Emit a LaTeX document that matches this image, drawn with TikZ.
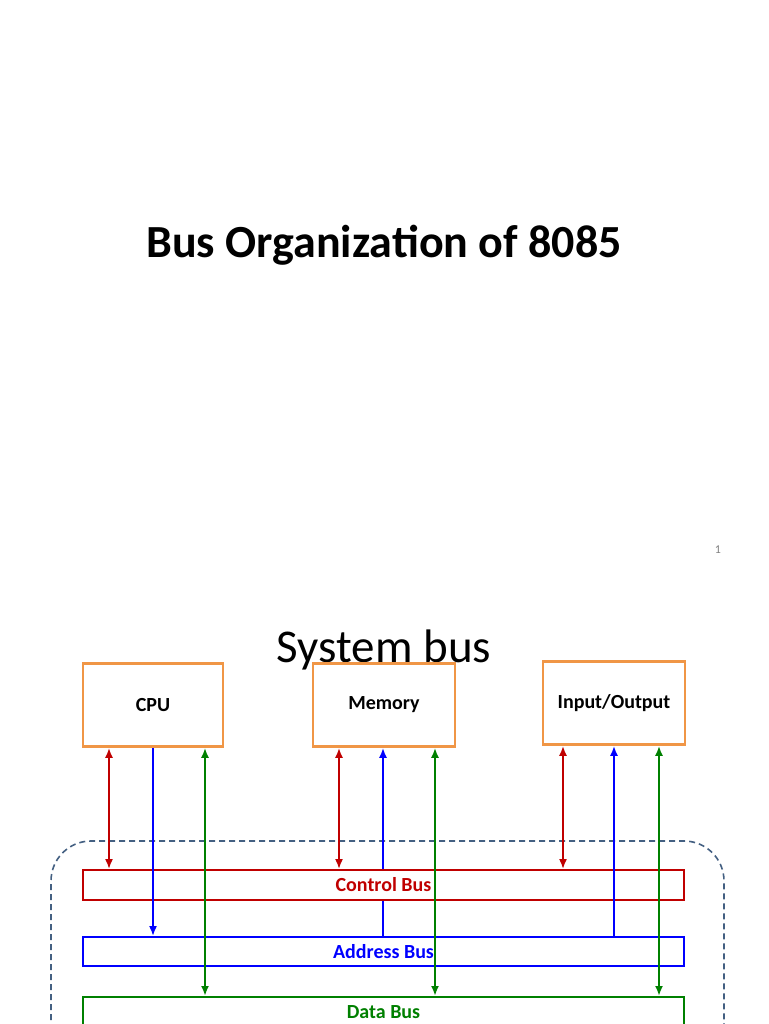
\documentclass[tikz,border=0pt]{standalone}
\usepackage{fontspec}
\setmainfont{Carlito}
\begin{document}
\begin{tikzpicture}[x=1pt,y=-1pt,
  unit/.style={line width=2.6pt,fill=white,font=\bfseries\fontsize{20}{22}\selectfont},
  bus/.style={line width=1.8pt,fill=white,font=\bfseries\fontsize{20}{22}\selectfont},
  arr/.style={line width=2pt,-{Latex[length=10pt,width=8pt]}},
  darr/.style={line width=2pt,{Latex[length=10pt,width=8pt]}-{Latex[length=10pt,width=8pt]}}]
\usetikzlibrary{arrows.meta}
\definecolor{cred}{RGB}{192,0,0}
\definecolor{cblue}{RGB}{0,0,255}
\definecolor{cgreen}{RGB}{0,128,0}
\definecolor{cdash}{RGB}{68,96,130}
\definecolor{corange}{RGB}{240,150,70}
\useasboundingbox (0,0) rectangle (768,1024);
\node[font=\bfseries\fontsize{46}{50}\selectfont] (title) at (384,245) {Bus Organization of 8085};
\node[font=\fontsize{12}{14}\selectfont,text=gray] (pg) at (718,550) {1};
\node[font=\fontsize{47}{50}\selectfont] (sys) at (384,650) {System bus};
\draw[cdash,dash pattern=on 6pt off 4pt,line width=1.6pt,rounded corners=40pt] (51,1040) -- (51,841) -- (724,841) -- (724,1040);
\node[unit,draw=corange,minimum width=140pt,minimum height=83pt] (cpu) at (153,705) {CPU};
\node[unit,draw=corange,minimum width=142pt,minimum height=83pt] (mem) at (384,705) {Memory};
\node[unit,draw=corange,minimum width=142pt,minimum height=83pt] (io) at (614,703) {Input/Output};
\node[bus,draw=cred,text=cred,minimum width=601pt,minimum height=30pt] (cb) at (383.5,885) {Control Bus};
\node[bus,draw=cblue,text=cblue,minimum width=601pt,minimum height=29pt] (ab) at (383.5,951.5) {Address Bus};
\node[bus,draw=cgreen,text=cgreen,minimum width=601pt,minimum height=30pt,anchor=north] (db) at (383.5,996) {Data Bus};
% control
\draw[darr,cred] (cpu.south -| 109,0) -- (cb.north -| 109,0);
\draw[darr,cred] (mem.south -| 339,0) -- (cb.north -| 339,0);
\draw[darr,cred] (io.south -| 563,0) -- (cb.north -| 563,0);
% address
\draw[arr,cblue] (cpu.south) -- (ab.north -| cpu.south);
\coordinate (mb) at (cb.north -| 383,0);
\draw[arr,cblue] (mb) -- (mem.south -| 383,0);
\draw[line width=2pt,cblue] (ab.north -| 383,0) -- (cb.south -| 383,0);
\draw[arr,cblue] (ab.north -| 614,0) -- (io.south -| 614,0);
% data
\draw[darr,cgreen] (cpu.south -| 205,0) -- (db.north -| 205,0);
\draw[darr,cgreen] (mem.south -| 435,0) -- (db.north -| 435,0);
\draw[darr,cgreen] (io.south -| 659,0) -- (db.north -| 659,0);
\end{tikzpicture}
\end{document}
